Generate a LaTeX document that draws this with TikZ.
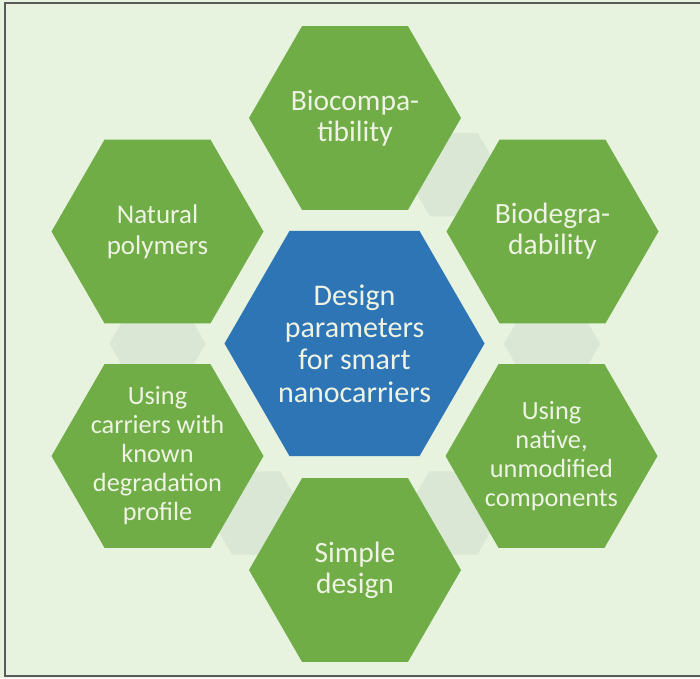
\documentclass[tikz,border=0pt]{standalone}
\usepackage{fontspec}
\setmainfont{Carlito}
\usetikzlibrary{shapes.geometric,calc}
\definecolor{bg}{HTML}{E7F2DF}
\definecolor{leaf}{HTML}{70AD47}
\definecolor{core}{HTML}{2E75B6}
\definecolor{ink}{HTML}{EEF3E4}
\definecolor{gap}{HTML}{DAE7D5}
\definecolor{frame}{HTML}{5A5A5A}
\tikzset{
  hexcell/.style={regular polygon, regular polygon sides=6, minimum size=212pt,
    inner sep=0pt, fill=leaf, draw=none},
  corecell/.style={hexcell, minimum size=260pt, fill=core},
  linkcell/.style={regular polygon, regular polygon sides=6, minimum size=96pt,
    inner sep=0pt, fill=gap, draw=none},
  txt/.style={text=ink, align=center, inner sep=0pt},
  huge/.style={txt, font=\fontsize{30}{32.3}\selectfont},
  big/.style={txt, font=\fontsize{29.5}{31}\selectfont},
  mid/.style={txt, font=\fontsize{27}{31}\selectfont},
  small/.style={txt, font=\fontsize{26.3}{29}\selectfont}
}
\begin{document}
\begin{tikzpicture}[x=1pt,y=-1pt]
  % canvas and frame
  \fill[bg] (0,0) rectangle (700,678);
  \useasboundingbox (0,0) rectangle (700,678);
  \draw[frame, line width=1.6pt] (700,3) -- (5,3) -- (5,676) -- (700,676);

  % hexagon positions
  \coordinate (pc) at (354.5,343.5);
  \coordinate (p1) at (355,118);
  \coordinate (p2) at (552.5,231.5);
  \coordinate (p3) at (551.5,456);
  \coordinate (p4) at (355,570);
  \coordinate (p5) at (157.5,456);
  \coordinate (p6) at (157.5,231.5);

  % pale link cells between neighbouring hexagons
  \node[linkcell] (l12) at ($(p1)!0.5!(p2)$) {};
  \node[linkcell] (l23) at ($(p2)!0.5!(p3)$) {};
  \node[linkcell] (l34) at ($(p3)!0.5!(p4)$) {};
  \node[linkcell] (l45) at ($(p4)!0.5!(p5)$) {};
  \node[linkcell] (l56) at ($(p5)!0.5!(p6)$) {};

  % outer hexagons
  \node[hexcell] (h1) at (p1) {};
  \node[hexcell] (h2) at (p2) {};
  \node[hexcell] (h3) at (p3) {};
  \node[hexcell] (h4) at (p4) {};
  \node[hexcell] (h5) at (p5) {};
  \node[hexcell] (h6) at (p6) {};
  % centre hexagon
  \node[corecell] (hc) at (pc) {};

  % labels
  \node[huge] (tc) at (hc) {Design\\parameters\\for smart\\nanocarriers};
  \node[big] (t1) at (h1) {Biocompa-\\tibility};
  \node[big] (t2) at (h2) {Biodegra-\\dability};
  \node[small] (t3) at (h3) {Using\\native,\\unmodified\\components};
  \node[big] (t4) at (h4) {Simple\\design};
  \node[small] (t5) at (h5) {Using\\carriers with\\known\\degradation\\profile};
  \node[mid] (t6) at (h6) {Natural\\polymers};
\end{tikzpicture}
\end{document}
